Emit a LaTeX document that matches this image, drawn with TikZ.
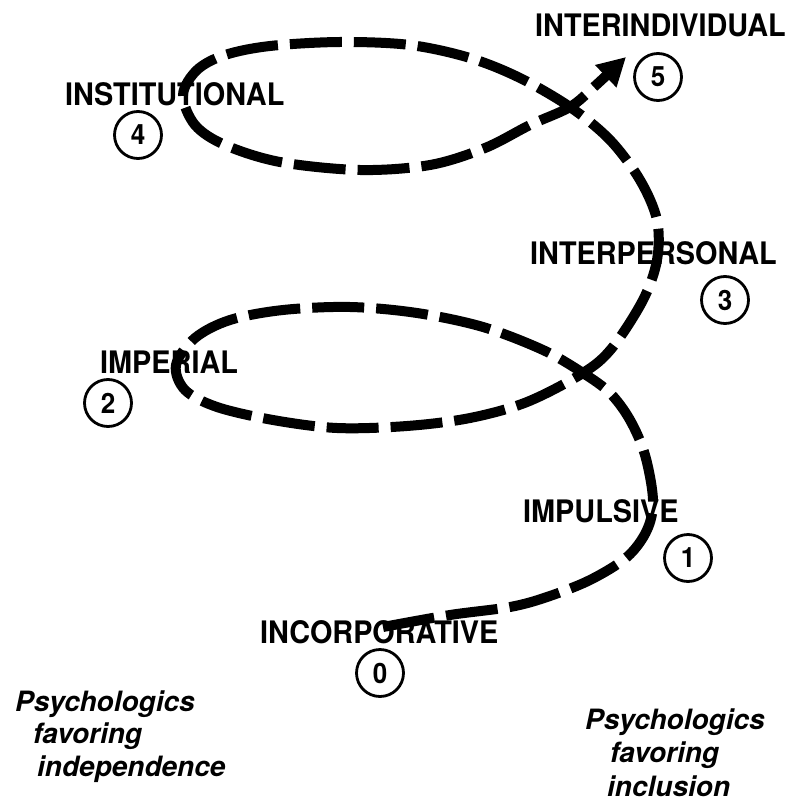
\documentclass[tikz,border=0pt]{standalone}
\usepackage{fontspec}
\setmainfont{TeX Gyre Heros}
\newfontfamily\labfont[FakeStretch=0.93]{TeX Gyre Heros}
\usetikzlibrary{arrows.meta}
\tikzset{
  stage/.style={font=\labfont\bfseries\fontsize{31}{34}\selectfont, inner sep=0pt, anchor=base west},
  numcirc/.style={circle, draw, line width=2.8pt, minimum size=47pt, inner sep=0pt, font=\labfont\bfseries\fontsize{28}{30}\selectfont},
  note/.style={font=\bfseries\itshape\fontsize{28}{32}\selectfont, inner sep=0pt, anchor=base west},
  spiral/.style={line width=10pt, dash pattern=on 52pt off 12pt, -{Triangle[length=28pt,width=29pt]}}
}
\begin{document}
\begin{tikzpicture}[x=1pt,y=-1pt]
\useasboundingbox[fill=white] (0,0) rectangle (791,810);
% spiral
\draw[spiral] plot[smooth, tension=0.55] coordinates {
 (383,627) (450,615) (510,607) (547,597) (590,580) (627,557) (647,530) (653,500)
 (645,455) (630,420) (610,393) (583,373) (543,350) (483,327) (417,313) (350,307)
 (283,310) (230,320) (195,338) (176,365) (185,390) (217,407) (273,420) (337,428)
 (407,426) (470,418) (527,402) (583,373) (612,348) (643,300) (657,260) (657,220)
 (640,180) (610,140) (570,107) (520,78) (470,58) (410,45) (340,42) (270,46)
 (225,55) (197,70) (183,95) (195,125) (225,145) (280,162) (360,170) (430,165)
 (485,148) (530,125) (570,107) (595,86) (626,57)};
% stage labels
\node[stage] (l5) at (535,37) {INTERINDIVIDUAL};
\node[stage] (l4) at (65,106) {INSTITUTIONAL};
\node[stage] (l3) at (530,264) {INTERPERSONAL};
\node[stage] (l2) at (100,373) {IMPERIAL};
\node[stage] (l1) at (523,522) {IMPULSIVE};
\node[stage] (l0) at (260,643) {INCORPORATIVE};
% numbers
\node[numcirc] (c5) at (658,77) {5};
\node[numcirc] (c4) at (138,135) {4};
\node[numcirc] (c3) at (725,300) {3};
\node[numcirc] (c2) at (108,403) {2};
\node[numcirc] (c1) at (688,558) {1};
\node[numcirc] (c0) at (380,673) {0};
% notes
\node[note] (a1) at (15,711) {Psychologics};
\node[note] (a2) at (33,743) {favoring};
\node[note] (a3) at (37,776) {independence};
\node[note] (b1) at (585,729) {Psychologics};
\node[note] (b2) at (610,762) {favoring};
\node[note] (b3) at (607,796) {inclusion};
\end{tikzpicture}
\end{document}
